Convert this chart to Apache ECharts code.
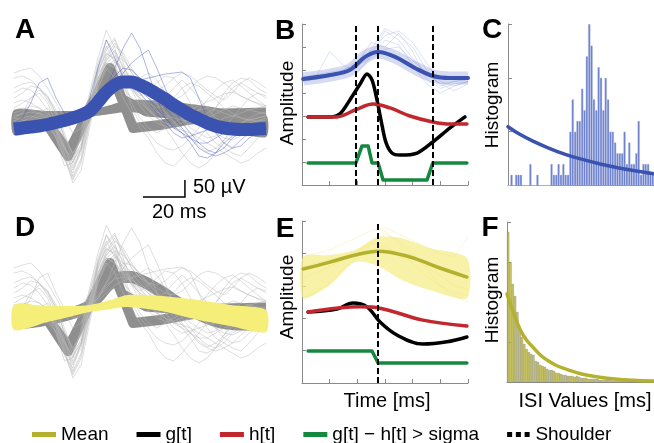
<!DOCTYPE html>
<html><head><meta charset="utf-8">
<script src="https://cdn.jsdelivr.net/npm/echarts@6/dist/echarts.min.js"></script>
<style>html,body{margin:0;padding:0;background:#fff}#c{width:654px;height:443px}</style>
</head><body><div id="c"></div>
<script>
// ================= DATA =================
// Panels A / D : spike waveforms (time in ms, amplitude in arbitrary µV-scaled units)
const timeMs = [0,4,8,12,16,20,24,28,32,36,40,44,48,52,56,60,64,68,72,76,80,84,88,92,96,100,104,108,112,116,120];
const lightTraces = [
  [5,8,12,10,3,-20,-48,-45,-15,25,60,88,70,40,15,0,-10,-15,-10,-5,0,5,8,10,8,5,2,0,-2,-3,-2],
  [25,30,28,20,8,-10,-35,-52,-30,10,50,70,80,55,30,20,10,0,-5,-10,-8,-5,0,5,10,20,30,35,30,25,20],
  [-5,-3,0,5,10,0,-25,-58,-40,0,40,62,75,60,45,35,25,15,20,30,38,30,20,10,0,-5,-10,-8,-5,-3,0],
  [10,15,20,25,15,-5,-30,-40,-20,15,45,55,50,40,35,40,45,38,25,10,0,-10,-15,-20,-18,-10,0,10,20,25,22],
  [-10,-8,-5,0,-5,-20,-40,-62,-45,-5,35,50,40,20,5,-10,-20,-35,-45,-48,-40,-30,-20,-10,-5,0,2,5,8,10,12],
  [0,5,20,28,22,5,-20,-35,-20,20,55,78,65,35,10,-5,-15,-25,-30,-32,-28,-20,-10,0,10,25,35,40,38,30,25],
  [15,18,15,10,5,-8,-28,-45,-25,12,48,65,58,42,30,22,28,35,42,40,30,15,0,-15,-25,-30,-35,-38,-30,-20,-10],
  [-8,-5,-2,2,0,-12,-32,-50,-35,0,38,58,68,50,28,12,2,-5,-8,-10,-12,-15,-20,-25,-30,-35,-40,-45,-42,-35,-30],
  [20,25,32,30,22,8,-15,-38,-28,5,40,60,72,65,50,38,30,25,20,18,22,30,38,42,40,35,28,22,18,15,12],
  [-3,0,2,0,-3,-15,-42,-55,-30,10,52,72,55,30,20,15,8,0,-10,-22,-35,-45,-50,-45,-35,-22,-10,-5,-2,0,2],
  [8,10,8,5,2,-10,-30,-48,-32,2,35,55,62,58,48,38,28,20,15,10,5,0,-5,-10,-15,-20,-22,-18,-12,-8,-5],
  [0,-2,-5,-8,-10,-18,-38,-65,-52,-10,30,52,58,45,30,18,8,0,-5,-8,-5,0,8,18,28,35,38,32,25,18,12],
  [45,48,50,42,30,15,0,-15,-10,10,40,55,50,38,28,20,15,10,12,20,30,35,32,25,18,10,5,0,-2,0,2],
  [40,42,38,30,20,5,-20,-42,-30,5,45,68,78,62,45,35,30,28,32,40,45,42,35,28,22,18,25,35,40,36,30],
  [2,4,6,4,0,-14,-36,-60,-42,-4,36,58,66,52,36,24,14,6,2,0,-2,-4,-2,0,4,8,12,10,8,6,4],
  [-15,-12,-10,-6,-4,-12,-30,-44,-30,4,30,48,56,50,40,30,22,16,12,8,6,8,12,16,20,24,26,22,18,14,10],
  [30,34,36,30,18,2,-18,-36,-22,12,46,64,60,46,34,26,20,14,6,-4,-12,-20,-28,-34,-30,-22,-14,-6,0,4,6]
];
const blueThinTraces = [
  [-8,-8,-7,-6,-5,-4,-3,-1,2,6,15,30,50,70,85,70,45,20,0,-10,-15,-20,-25,-25,-20,-15,-12,-10,-10,-9,-9],
  [-10,-9,-8,-7,-6,-5,-3,-1,3,8,15,25,35,45,55,62,68,50,30,10,-5,-15,-25,-32,-35,-30,-20,-15,-12,-10,-10],
  [-6,-5,-5,-4,-3,-2,-1,0,5,20,50,78,60,40,30,25,15,5,-5,-15,-20,-18,-15,-12,-10,-10,-9,-9,-8,-8,-8],
  [-10,-10,-9,-8,-7,-6,-5,-3,0,5,12,20,28,32,35,38,40,42,44,45,46,40,20,0,-15,-25,-30,-28,-20,-15,-12],
  [-5,0,15,35,40,20,5,-5,-3,4,15,28,34,36,33,28,20,10,0,-8,-15,-25,-38,-40,-35,-25,-18,-12,-10,-10,-10],
  [-12,-10,-8,-5,-2,0,2,3,5,8,18,30,42,50,48,40,30,20,10,0,-10,-20,-30,-35,-38,-35,-30,-22,-15,-12,-10]
];
const blueClusterMean = [-11,-10,-9,-8,-6.5,-4.5,-2.5,0,3,7,16,26,33,36,36,33,29,24,19,13,8,3,-1,-5,-8,-10,-11,-11.5,-11.5,-11,-10.5];
const spikeCluster1 = [[0,0],[13.8,0],[25.7,-38],[35.2,5],[45.7,50],[56.7,-10],[69.5,-7],[82.4,-2],[102.9,4],[120,5]];
const spikeCluster2 = [[0,1],[14,1],[26,-33],[35.5,6],[46,45],[51,20],[63,6],[80,3],[100,5],[120,6]];
const yellowClusterT = [0,16,28,36,46,54,70,88,103,120];
const yellowClusterLow = [-17,-9,-3,1,4,6,2,-7,-13,-19];
const yellowClusterUp = [8,7,7,8,13,18,17,13,8,3];
// scale bar: 20 ms horizontal, 17 units (= 50 µV) vertical
const scaleBarStartMs = 61.4, scaleBarBaseY = -79, scaleBarMs = 20, scaleBarAmp = 17;

// Panel B (x: time ticks 0..6, y: amplitude 0..7)
const bThinX = [0,0.5,1,1.5,2,2.5,3,3.5,4,4.5,5,5.5,6];
const bThinTraces = [
  [4.6,4.7,5.8,5.2,4.9,5.6,6.7,6.3,5.5,4.8,4.4,4.5,4.6],
  [4.5,4.6,4.7,4.9,5.1,5.9,6.8,6.5,6.0,5.0,4.3,4.5,4.6],
  [4.7,4.8,4.9,5.0,5.3,6.2,6.0,6.6,5.8,4.6,4.2,4.4,4.5],
  [4.6,4.6,4.7,4.9,5.2,5.6,6.3,6.1,5.2,4.4,4.0,4.3,4.5],
  [4.5,4.6,4.8,5.0,5.4,5.8,6.5,6.7,6.2,5.3,4.5,4.3,4.5],
  [4.7,4.7,4.8,5.0,5.2,5.5,5.9,6.0,5.4,4.9,4.4,4.1,4.4]
];
const bBlue = [[0.04,4.61],[1.01,4.78],[1.73,5.0],[2.28,5.57],[2.75,5.78],[3.36,5.57],[4.08,5.09],[4.73,4.74],[5.35,4.65],[6.0,4.65]];
const bG = [[0.22,2.96],[1.01,2.96],[1.37,3.09],[1.73,3.70],[2.10,4.39],[2.35,4.83],[2.53,4.57],[2.71,3.70],[2.89,2.61],[3.04,1.83],[3.25,1.39],[3.54,1.30],[4.16,1.39],[4.73,1.87],[5.35,2.48],[5.89,2.96]];
const bH = [[0.22,2.96],[1.26,2.96],[1.92,3.26],[2.57,3.52],[3.18,3.35],[3.90,3.0],[4.73,2.74],[5.35,2.65],[5.96,2.65]];
const bDiff = [[0.22,0.96],[1.95,0.96],[2.17,1.70],[2.39,1.70],[2.53,0.96],[2.75,0.96],[2.93,0.22],[4.52,0.22],[4.73,0.96],[5.96,0.96]];
const bShoulders = [1.95, 2.75, 4.73];

// Panel C: ISI histogram (counts per bin) and fitted curve
const cCounts = [0,1,0,1,1,1,0,0,0,2,0,0,1,0,0,0,0,0,2,1,1,2,1,2,1,1,5,8,5,6,6,9,7,12,15,13,8,7,11,10,7,10,8,5,5,4,3,3,3,5,2,4,2,2,3,6,1,2,2,2,1,1];
const cFit = [[0,5.46],[5,4.75],[10.6,4.12],[17,3.5],[24.9,2.85],[32,2.4],[39.1,2.0],[46,1.68],[53.2,1.39],[62,1.08]];

// Panel E
const eThinX = [0,0.5,1,1.5,2,2.5,3,3.5,4,4.5,5,5.5,6];
const eThinTraces = [
  [3.9,4.0,4.1,4.3,4.5,4.7,4.8,4.6,4.4,4.2,4.0,3.9,4.5],
  [2.6,2.8,3.1,3.5,3.9,4.3,4.6,4.4,4.0,3.5,3.0,2.7,2.5],
  [3.2,3.4,3.6,3.8,4.0,4.4,4.7,4.3,3.9,3.6,3.3,3.0,2.9],
  [3.6,3.7,3.8,3.9,4.1,4.3,4.2,4.0,3.7,3.3,3.0,2.8,2.7]
];
const eBandX = [0.04,1.0,1.9,2.75,3.6,4.6,5.96];
const eBandLow = [2.62,3.02,3.73,3.61,3.18,2.87,2.62];
const eBandUp = [3.89,3.95,4.10,4.50,4.47,4.17,3.86];
const eMean = [[0.04,3.52],[1.01,3.73],[1.92,3.95],[2.75,4.07],[3.90,3.89],[4.88,3.58],[5.96,3.27]];
const eG = [[0.22,2.19],[1.26,2.28],[1.84,2.47],[2.35,2.35],[2.82,1.88],[3.43,1.48],[4.37,1.20],[5.24,1.27],[5.96,1.42]];
const eH = [[0.22,2.19],[2.10,2.35],[2.82,2.31],[4.37,1.94],[5.96,1.76]];
const eDiff = [[0.22,0.99],[2.53,0.99],[2.75,0.62],[5.96,0.62]];
const eShoulders = [2.75];

// Panel F: ISI histogram and fit
const fCounts = [150,120,98,86,70,55,45,38,33,30,28,27,21,20,17,16,15,13,12,12,11,9,9,8,7,7,6,6,6,5,6,5,4,4,4,3,3,3,3,3,2,2,2,2,2,2,1,2,1,1,1,1,1,1,1,1,0,1,0,1,0,0,1,0];
const fFit = [[0,88],[3,68],[5.8,52],[8.5,42],[11.6,34],[15,26],[18.8,20],[22,16],[26,12.7],[33,7.7],[40.4,4.7],[47,2.9],[54.8,1.7],[64,1]];

// labels
const panelLetters = ['A','B','C','D','E','F'];
const legendNames = ['Mean','g[t]','h[t]','g[t] \u2212 h[t] > sigma','Shoulder'];

// ================= STYLE =================
const FONT = "'Liberation Sans', Arial, sans-serif";
const C = {
  gray:'#8f8f8f', light:'rgba(185,185,185,0.6)', blue:'#3a53b0', blueThin:'rgba(70,85,190,0.55)',
  yellow:'#f5ee78', olive:'#b4b12e', red:'#c1272d', green:'#14883f', black:'#000', lav:'rgba(150,160,220,0.35)',
  axis:'#8a8a8a'
};
function ln(name, xi, yi, data, color, width, extra) {
  return Object.assign({type:'line', name, xAxisIndex:xi, yAxisIndex:yi, data, symbol:'none', silent:true,
    animation:false, lineStyle:{color, width, cap: width>6 ? 'butt' : 'round', join:'round'}, itemStyle:{color}}, extra || {});
}
// filled band between a lower and an upper edge, positioned through the axes' scales
function band(name, xi, yi, xs, low, up, color, z) {
  return {type:'custom', name, xAxisIndex:xi, yAxisIndex:yi, data:[[xs[0], low[0]]], silent:true, animation:false, z,
    renderItem:(params, api)=>{
      const pts = [];
      xs.forEach((x,i)=>pts.push(api.coord([x, up[i]])));
      for (let i=xs.length-1;i>=0;i--) pts.push(api.coord([xs[i], low[i]]));
      return {type:'polygon', shape:{points:pts, smooth:0.25}, style:{fill:color}};
    }};
}
const onTime = arr => timeMs.map((t,i)=>[t, arr[i]]);
const onX = (xs, arr) => xs.map((x,i)=>[x, arr[i]]);

const series = [];
// ---- Panel A (grid 0) & D (grid 3) ----
[[0,0,'A'],[4,3,'D']].forEach(([xi,yi,p])=>{
  lightTraces.forEach((tr,k)=>series.push(ln('lt'+p+k, xi, yi, onTime(tr), C.light, 0.8)));
  if (p==='D') blueThinTraces.forEach((tr,k)=>series.push(ln('bt'+p+k, xi, yi, onTime(tr), C.light, 0.8)));
  series.push(ln('s1'+p, xi, yi, spikeCluster1, C.gray, 10, {z:2}));
  series.push(ln('s2'+p, xi, yi, spikeCluster2, C.gray, 9, {z:2}));
  // yellow cluster band: gray in A, yellow in D
  series.push(band('yb'+p, xi, yi, yellowClusterT, yellowClusterLow, yellowClusterUp, p==='A' ? C.gray : C.yellow, p==='D'?5:2));
  if (p==='A') {
    blueThinTraces.forEach((tr,k)=>series.push(ln('bt'+p+k, xi, yi, onTime(tr), C.blueThin, 0.8, {z:3})));
    series.push(ln('bm'+p, xi, yi, onTime(blueClusterMean), C.blue, 13, {smooth:0.3, z:4}));
    series.push(ln('scale', xi, yi, [[scaleBarStartMs, scaleBarBaseY],[scaleBarStartMs+scaleBarMs, scaleBarBaseY],[scaleBarStartMs+scaleBarMs, scaleBarBaseY+scaleBarAmp]], '#000', 1.5, {lineStyle:{color:'#000',width:1.5,cap:'butt',join:'miter'}, z:5}));
  } else {
    series.push(ln('bm'+p, xi, yi, onTime(blueClusterMean), C.gray, 12, {smooth:0.3, z:2}));
  }
});

// ---- Panel B (grid 1) ----
bThinTraces.forEach((tr,k)=>series.push(ln('bthin'+k, 1, 1, onX(bThinX, tr), C.lav, 0.9)));
series.push(ln('bhalo', 1, 1, bBlue, 'rgba(120,135,210,0.3)', 13, {smooth:0.35}));
series.push(ln('bblue', 1, 1, bBlue, C.blue, 4, {smooth:0.35}));
series.push(ln(legendNames[1], 1, 1, bG, C.black, 3.5, {smooth:0.3}));
series.push(ln(legendNames[2], 1, 1, bH, C.red, 3.5, {smooth:0.35}));
series.push(ln(legendNames[3], 1, 1, bDiff, C.green, 3.5));
series.push(ln(legendNames[4], 1, 1, [], C.black, 2, {markLine:{silent:true, symbol:['none','none'], label:{show:false},
  lineStyle:{color:'#000', width:2, type:[6,3]}, data:bShoulders.map(x=>({xAxis:x}))}}));

// ---- Panel C (grid 2) ----
series.push({type:'bar', name:'cbars', xAxisIndex:2, yAxisIndex:2, data:cCounts, barCategoryGap:'0%', silent:true, animation:false,
  itemStyle:{color:'rgba(80,102,192,0.85)', borderColor:'rgba(190,200,238,0.8)', borderWidth:0.5}});
series.push(ln('cfit', 3, 2, cFit, C.blue, 3.5, {smooth:0.4, z:4}));

// ---- Panel E (grid 4) ----
eThinTraces.forEach((tr,k)=>series.push(ln('ethin'+k, 5, 4, onX(eThinX, tr), 'rgba(235,225,120,0.35)', 0.9)));
series.push(band('eband', 5, 4, eBandX, eBandLow, eBandUp, 'rgba(246,238,140,0.75)', 1));
series.push(ln(legendNames[0], 5, 4, eMean, C.olive, 3.5, {smooth:0.4}));
series.push(ln(legendNames[1], 5, 4, eG, C.black, 3.5, {smooth:0.35}));
series.push(ln(legendNames[2], 5, 4, eH, C.red, 3.5, {smooth:0.35}));
series.push(ln(legendNames[3], 5, 4, eDiff, C.green, 3.5));
series.push(ln(legendNames[4], 5, 4, [], C.black, 2, {markLine:{silent:true, symbol:['none','none'], label:{show:false},
  lineStyle:{color:'#000', width:2, type:[6,3]}, data:eShoulders.map(x=>({xAxis:x}))}}));

// ---- Panel F (grid 5) ----
series.push({type:'bar', name:'fbars', xAxisIndex:6, yAxisIndex:5, data:fCounts, barCategoryGap:'0%', silent:true, animation:false,
  itemStyle:{color:'rgba(200,195,80,0.9)', borderColor:'rgba(120,120,100,0.8)', borderWidth:0.5}});
series.push(ln('ffit', 7, 5, fFit, C.olive, 3.5, {smooth:0.4, z:4}));

// ================= AXES =================
function boxX(gi, extra){ return Object.assign({gridIndex:gi, axisLine:{show:true, onZero:false, lineStyle:{color:C.axis}},
  axisTick:{show:true, inside:true, length:4, lineStyle:{color:C.axis}}, axisLabel:{show:false}, splitLine:{show:false}}, extra); }
const xAxis = [
  {type:'value', gridIndex:0, min:0, max:120, show:false},
  boxX(1, {type:'value', min:0, max:6, interval:1}),
  boxX(2, {type:'category', data:cCounts.map((_,i)=>i), axisTick:{show:false}}),
  {type:'value', gridIndex:2, min:0, max:cCounts.length, show:false},
  {type:'value', gridIndex:3, min:0, max:120, show:false},
  boxX(4, {type:'value', min:0, max:6, interval:1}),
  boxX(5, {type:'category', data:fCounts.map((_,i)=>i), axisTick:{show:false}}),
  {type:'value', gridIndex:5, min:0, max:fCounts.length, show:false}
];
const yAxis = [
  {type:'value', gridIndex:0, min:-82, max:93, show:false},
  boxX(1, {type:'value', min:0, max:7, interval:1}),
  boxX(2, {type:'value', min:0, max:15, interval:5}),
  {type:'value', gridIndex:3, min:-82, max:93, show:false},
  boxX(4, {type:'value', min:0, max:5, interval:1}),
  boxX(5, {type:'value', min:0, max:160, interval:40})
];
const grid = [
  {left:14, top:25, width:252, height:175},
  {left:302, top:24, width:166, height:161},
  {left:508, top:24, width:146, height:161.5},
  {left:14, top:220, width:252, height:175},
  {left:302, top:221, width:166, height:162},
  {left:507, top:222, width:147, height:160}
];

// ================= TEXT =================
const letterPos = [[25,30],[285,31],[492,30],[25,228],[285,229],[490,228]];
const graphic = panelLetters.map((t,i)=>({type:'text', x:letterPos[i][0], y:letterPos[i][1], silent:true,
  style:{text:t, font:'bold 28px '+FONT, fill:'#000', align:'center', verticalAlign:'middle'}}));
const txt = (t,x,y,size,rot,align)=>({type:'text', x, y, rotation:rot||0, silent:true,
  style:{text:t, font:size+'px '+FONT, fill:'#000', align:align||'center', verticalAlign:'middle'}});
graphic.push(txt('Amplitude', 288, 103, 19, Math.PI/2));
graphic.push(txt('Amplitude', 288, 297, 19, Math.PI/2));
graphic.push(txt('Histogram', 493, 105, 19, Math.PI/2));
graphic.push(txt('Histogram', 493, 300, 19, Math.PI/2));
graphic.push(txt('Time [ms]', 387, 401, 20));
graphic.push(txt('ISI Values [ms]', 585, 401, 20));
graphic.push(txt('50 \u00b5V', 193, 187, 20, 0, 'left'));
graphic.push(txt('20 ms', 152, 212, 20, 0, 'left'));

const chart = echarts.init(document.getElementById('c'), null, {renderer:'canvas'});
chart.setOption({
  animation:false,
  textStyle:{fontFamily:FONT},
  grid, xAxis, yAxis, series, graphic,
  legend:{left:27, top:420, itemWidth:24, itemHeight:5, itemGap:28, selectedMode:false,
    textStyle:{fontSize:19, color:'#000', fontFamily:FONT},
    data:[
      {name:legendNames[0], icon:'rect'},
      {name:legendNames[1], icon:'rect'},
      {name:legendNames[2], icon:'rect'},
      {name:legendNames[3], icon:'rect'},
      {name:legendNames[4], icon:'path://M0,0h4v4h-4z M7,0h4v4h-4z M14,0h4v4h-4z', itemStyle:{color:'#000'}}
    ]}
});
</script></body></html>
